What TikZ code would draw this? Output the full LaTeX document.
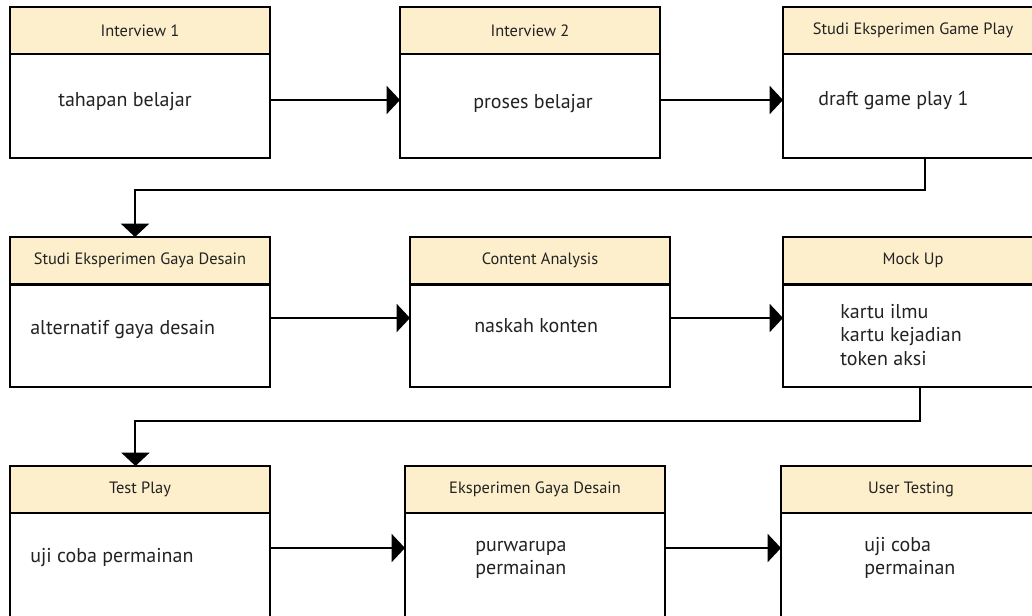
\documentclass[tikz,border=0pt]{standalone}
\usepackage{fontspec}
\setmainfont{PT Sans}
\usetikzlibrary{arrows.meta,calc}
\definecolor{hdrfill}{HTML}{FDEFCC}
\definecolor{txt}{HTML}{222222}
\tikzset{
  hdr/.style={draw=black, line width=1.5pt, fill=hdrfill, anchor=north west,
    minimum width=195pt, minimum height=35.25pt, inner sep=0pt, outer sep=0pt,
    font=\fontsize{12.3}{14}\selectfont, text=txt},
  bodybox/.style={draw=black, line width=1.5pt, fill=white, anchor=north west,
    minimum width=195pt, inner sep=0pt, outer sep=0pt},
  bodytext/.style={anchor=west, align=left, inner sep=0pt, text=txt,
    font=\fontsize{15}{17.6}\selectfont},
  arr/.style={line width=1.5pt, draw=black, -{Triangle[length=10pt,width=21pt]}},
}
\begin{document}
\begin{tikzpicture}[x=0.75pt,y=-0.75pt]
\useasboundingbox (0,0) rectangle (1032,615);
\fill[white] (0,0) rectangle (1032,615);
\clip (0,0) rectangle (1032,615);

% Row 1
\node[bodybox, minimum height=78pt] (b1) at (10,54) {};
\node[hdr] (h1) at (10,7) {Interview 1};
\node[bodybox, minimum height=78pt] (b2) at (400,54) {};
\node[hdr] (h2) at (400,7) {Interview 2};
\node[bodybox, minimum height=78pt] (b3) at (783,54) {};
\node[hdr] (h3) at (783,7) {Studi Eksperimen Game Play};

% Row 2
\node[bodybox, minimum height=76.5pt] (b4) at (10,285) {};
\node[hdr] (h4) at (10,237) {Studi Eksperimen Gaya Desain};
\node[bodybox, minimum height=76.5pt] (b5) at (410,285) {};
\node[hdr] (h5) at (410,237) {Content Analysis};
\node[bodybox, minimum height=76.5pt] (b6) at (783,285) {};
\node[hdr] (h6) at (783,237) {Mock Up};

% Row 3
\node[bodybox, minimum height=81pt] (b7) at (10,513) {};
\node[hdr] (h7) at (10,466) {Test Play};
\node[bodybox, minimum height=81pt] (b8) at (405,513) {};
\node[hdr] (h8) at (405,466) {Eksperimen Gaya Desain};
\node[bodybox, minimum height=81pt] (b9) at (781,513) {};
\node[hdr] (h9) at (781,466) {User Testing};

% Body texts
\node[bodytext] (t1) at (58,102) {tahapan belajar};
\node[bodytext] (t2) at (473,104) {proses belajar};
\node[bodytext] (t3) at (818,100) {draft game play 1};
\node[bodytext] (t4) at (30,330) {alternatif gaya desain};
\node[bodytext] (t5) at (474,326) {naskah konten};
\node[bodytext] (t6) at (840,335) {kartu ilmu\\kartu kejadian\\token aksi};
\node[bodytext] (t7) at (30,558) {uji coba permainan};
\node[bodytext] (t8) at (475,560) {purwarupa\\permainan};
\node[bodytext] (t9) at (864,558) {uji coba\\permainan};

% Horizontal arrows
\draw[arr] ([yshift=-34.5pt]b1.north east) -- ([yshift=-34.5pt]b2.north west);
\draw[arr] ([yshift=-34.5pt]b2.north east) -- ([yshift=-34.5pt]b3.north west);
\draw[arr] ([yshift=-24.75pt]b4.north east) -- ([yshift=-24.75pt]b5.north west);
\draw[arr] ([yshift=-24.75pt]b5.north east) -- ([yshift=-24.75pt]b6.north west);
\draw[arr] ([yshift=-26.25pt]b7.north east) -- ([yshift=-26.25pt]b8.north west);
\draw[arr] ([yshift=-26.25pt]b8.north east) -- ([yshift=-26.25pt]b9.north west);

% Elbow connectors
\draw[arr] ([xshift=106.5pt]b3.south west) -- ++(0,32) -| ([xshift=-3.75pt]h4.north);
\draw[arr] ([xshift=102.75pt]b6.south west) -- ++(0,34) -| ([xshift=-3.4pt]h7.north);
\end{tikzpicture}
\end{document}
